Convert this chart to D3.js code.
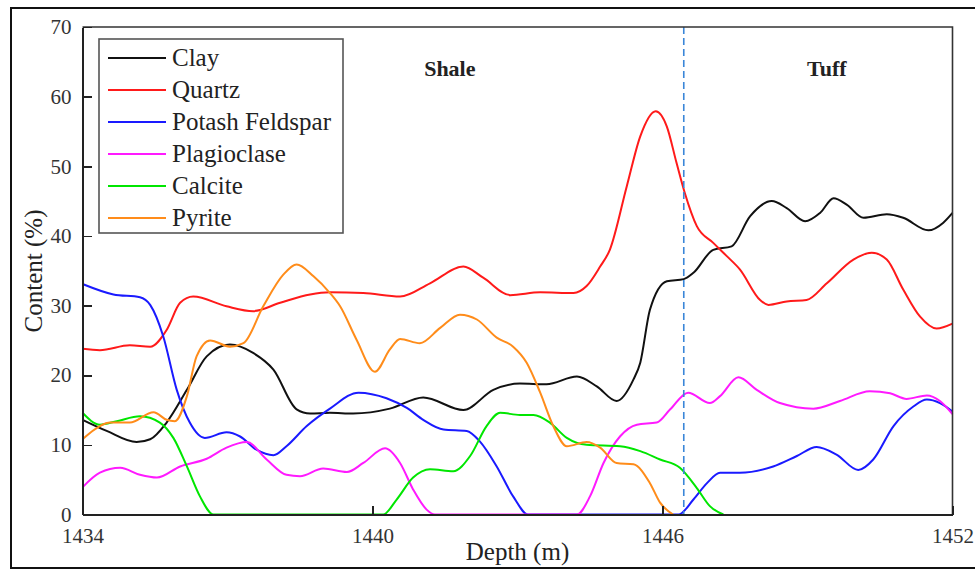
<!DOCTYPE html>
<meta charset="utf-8">
<style>
    body { margin: 0; background: #fff; }
    svg text { font-family: 'Liberation Serif', 'Times New Roman', serif; fill: #222; }
    .axis path, .axis line { stroke: #222; stroke-width: 1.6; shape-rendering: crispEdges; }
    .axis text { font-size: 21px; fill: #333; }
</style>
<body>
<svg id="chart" width="975" height="570"></svg>
<script src="https://cdn.jsdelivr.net/npm/d3@7/dist/d3.min.js"></script>
<script>

// [depth (m), content (%)]
var clay = [[1434,13.6],[1434.5,12.0],[1435.12,10.4],[1435.4,10.8],[1435.74,13.2],[1436.16,17.9],[1436.57,22.7],[1437.05,24.4],[1437.53,23.2],[1437.95,20.8],[1438.43,15.1],[1438.71,14.5],[1439.12,14.6],[1439.6,14.5],[1440.36,15.2],[1441.05,16.8],[1441.88,15.0],[1442.5,17.9],[1443.05,18.8],[1443.6,18.7],[1444.23,19.8],[1444.64,18.4],[1445.05,16.3],[1445.4,19.4],[1445.54,21.8],[1445.74,29.4],[1446.09,33.5],[1446.44,33.8],[1446.64,34.7],[1447.05,38.0],[1447.43,38.5],[1447.81,42.8],[1448.26,45.0],[1448.57,44.0],[1448.95,42.1],[1449.26,43.3],[1449.54,45.4],[1449.81,44.5],[1450.16,42.6],[1450.64,43.1],[1450.98,42.6],[1451.5,40.8],[1451.81,41.9],[1452,43.3]];
var quartz = [[1434,23.8],[1434.36,23.6],[1434.98,24.3],[1435.4,24.1],[1435.74,26.5],[1436.02,30.4],[1436.29,31.3],[1436.98,29.9],[1437.53,29.2],[1438.09,30.4],[1438.71,31.6],[1439.12,31.9],[1439.81,31.8],[1440.57,31.3],[1441.19,33.2],[1441.88,35.6],[1442.29,34.0],[1442.85,31.5],[1443.47,31.9],[1444.16,31.8],[1444.43,32.8],[1444.71,35.6],[1444.91,38.0],[1445.26,47.1],[1445.54,54.3],[1445.86,57.9],[1446.09,55.7],[1446.29,50.5],[1446.46,46.2],[1446.71,41.4],[1447.05,39.0],[1447.33,37.1],[1447.6,35.2],[1448.02,30.8],[1448.19,30.1],[1448.57,30.6],[1448.98,30.8],[1449.4,33.2],[1449.95,36.6],[1450.33,37.6],[1450.64,36.6],[1450.98,32.3],[1451.33,28.4],[1451.67,26.7],[1452,27.4]];
var potash = [[1434,33.1],[1434.64,31.6],[1435.19,31.2],[1435.4,30.1],[1435.67,25.6],[1435.95,17.9],[1436.22,13.2],[1436.53,11.0],[1436.98,11.8],[1437.26,11.2],[1437.6,9.3],[1437.95,8.5],[1438.22,9.8],[1438.64,12.7],[1439.12,15.2],[1439.71,17.5],[1440.29,16.7],[1440.71,15.3],[1441.05,13.6],[1441.47,12.2],[1441.95,12.0],[1442.22,10.5],[1442.57,6.9],[1442.91,2.6],[1443.22,0],[1446.33,0],[1446.64,2.15],[1446.92,4.5],[1447.19,6.0],[1447.6,6.0],[1448.29,6.9],[1448.78,8.4],[1449.19,9.7],[1449.6,8.6],[1450.05,6.4],[1450.36,7.9],[1450.78,12.7],[1451.19,15.5],[1451.47,16.5],[1451.74,16.0],[1452,14.8]];
var plagioclase = [[1434,3.9],[1434.36,6.0],[1434.78,6.7],[1435.19,5.7],[1435.54,5.3],[1436.02,6.9],[1436.57,8.0],[1436.98,9.6],[1437.4,10.4],[1437.81,7.9],[1438.22,5.7],[1438.5,5.5],[1438.98,6.6],[1439.47,6.1],[1439.81,7.4],[1440.26,9.5],[1440.57,7.4],[1440.84,3.6],[1441.12,0.7],[1441.29,0],[1444.23,0],[1444.5,2.6],[1444.78,7.4],[1445.12,11.2],[1445.47,12.9],[1445.88,13.2],[1446.16,15.1],[1446.53,17.5],[1446.98,16.0],[1447.19,17.0],[1447.57,19.7],[1447.95,17.9],[1448.43,16.0],[1449.12,15.2],[1449.67,16.3],[1450.29,17.7],[1450.71,17.4],[1451.05,16.6],[1451.47,17.1],[1451.74,16.3],[1452,14.4]];
var calcite = [[1434,14.6],[1434.36,12.9],[1434.71,13.4],[1435.19,14.1],[1435.6,13.2],[1435.88,11.0],[1436.16,6.9],[1436.43,2.6],[1436.71,0],[1440.22,0],[1440.5,2.15],[1440.84,5.3],[1441.19,6.5],[1441.67,6.2],[1442.02,8.4],[1442.36,12.7],[1442.64,14.6],[1443.05,14.3],[1443.33,14.3],[1443.67,13.2],[1444.02,11.0],[1444.43,10.0],[1445.12,9.8],[1445.54,9.1],[1445.95,7.9],[1446.36,6.7],[1446.71,3.8],[1446.98,1.2],[1447.26,0]];
var pyrite = [[1434,10.8],[1434.36,12.7],[1434.57,13.2],[1434.98,13.2],[1435.47,14.7],[1435.74,13.6],[1435.91,13.4],[1436.16,17.0],[1436.36,22.7],[1436.64,25.0],[1437.05,24.1],[1437.33,24.6],[1437.74,29.9],[1438.15,34.4],[1438.43,35.9],[1438.78,34.2],[1439.12,31.8],[1439.33,29.9],[1439.67,25.1],[1440.05,20.5],[1440.36,23.7],[1440.57,25.2],[1440.98,24.6],[1441.4,26.8],[1441.81,28.7],[1442.16,28.0],[1442.57,25.4],[1442.91,24.1],[1443.19,21.8],[1443.47,17.5],[1443.74,12.7],[1444.02,9.8],[1444.43,10.4],[1444.71,9.6],[1445.05,7.4],[1445.4,7.2],[1445.74,4.5],[1445.95,1.7],[1446.22,0]];

var names = ["Clay", "Quartz", "Potash Feldspar", "Plagioclase", "Calcite", "Pyrite"];
var colors = ["#111111", "#ff1a1a", "#1a1aff", "#ff1aff", "#00e600", "#ff8c1a"];
var seriesData = [clay, quartz, potash, plagioclase, calcite, pyrite];

var xTicks = [1434, 1440, 1446, 1452];
var yTicks = [0, 10, 20, 30, 40, 50, 60, 70];
var boundaryDepth = 1446.44;   // shale / tuff boundary
var zones = [["Shale", 1441.6], ["Tuff", 1449.4]];

var svg = d3.select("#chart");

// outer frame of the figure
svg.append("rect")
    .attr("x", 11).attr("y", 8)
    .attr("width", 990).attr("height", 560)
    .attr("fill", "none").attr("stroke", "#111").attr("stroke-width", 2);

var plotLeft = 82.5, plotRight = 952.5, plotTop = 27, plotBottom = 514.5;

var x = d3.scaleLinear().domain([1434, 1452]).range([plotLeft, plotRight]);
var y = d3.scaleLinear().domain([0, 70]).range([plotBottom, plotTop]);

var line = d3.line()
    .x(function (d) { return x(d[0]); })
    .y(function (d) { return y(d[1]); })
    .curve(d3.curveMonotoneX);

var plot = svg.append("g");

plot.selectAll("path.series")
    .data(seriesData)
    .enter().append("path")
    .attr("class", "series")
    .attr("d", line)
    .attr("fill", "none")
    .attr("stroke", function (d, i) { return colors[i]; })
    .attr("stroke-width", 2);

// boundary line
svg.append("line")
    .attr("x1", x(boundaryDepth)).attr("x2", x(boundaryDepth))
    .attr("y1", y(70)).attr("y2", y(0))
    .attr("stroke", "#3a86d8")
    .attr("stroke-width", 1.6)
    .attr("stroke-dasharray", "7,4");

// frame of the plot (top and right)
svg.append("path")
    .attr("d", "M" + x(1434) + "," + y(70) + "H" + x(1452) + "V" + y(0))
    .attr("fill", "none").attr("stroke", "#333").attr("stroke-width", 1.6);

// axes
svg.append("g")
    .attr("class", "axis")
    .attr("transform", "translate(0," + plotBottom + ")")
    .call(d3.axisBottom(x).tickValues(xTicks).tickFormat(d3.format("d"))
        .tickSizeInner(-9).tickSizeOuter(0).tickPadding(14));

svg.append("g")
    .attr("class", "axis")
    .attr("transform", "translate(" + plotLeft + ",0)")
    .call(d3.axisLeft(y).tickValues(yTicks)
        .tickSizeInner(-9).tickSizeOuter(0).tickPadding(11));

// axis titles
svg.append("text")
    .attr("x", (plotLeft + plotRight) / 2)
    .attr("y", 560)
    .attr("text-anchor", "middle")
    .style("font-size", "25px")
    .text("Depth (m)");

svg.append("text")
    .attr("transform", "translate(42,271) rotate(-90)")
    .attr("text-anchor", "middle")
    .style("font-size", "25px")
    .text("Content (%)");

// zone labels
svg.selectAll("text.zone")
    .data(zones)
    .enter().append("text")
    .attr("class", "zone")
    .attr("x", function (d) { return x(d[1]); })
    .attr("y", 76)
    .attr("text-anchor", "middle")
    .style("font-size", "22px")
    .style("font-weight", "bold")
    .text(function (d) { return d[0]; });

// legend
var legend = svg.append("g").attr("transform", "translate(99,39)");
legend.append("rect")
    .attr("width", 244).attr("height", 194)
    .attr("fill", "#fff").attr("stroke", "#555").attr("stroke-width", 1.6);

var rows = legend.selectAll("g.row")
    .data(names)
    .enter().append("g")
    .attr("class", "row")
    .attr("transform", function (d, i) { return "translate(0," + (19 + i * 32) + ")"; });

rows.append("line")
    .attr("x1", 9).attr("x2", 67)
    .attr("stroke", function (d, i) { return colors[i]; })
    .attr("stroke-width", 2);

rows.append("text")
    .attr("x", 73)
    .attr("dy", "0.33em")
    .style("font-size", "25px")
    .text(function (d) { return d; });

</script>
</body>
